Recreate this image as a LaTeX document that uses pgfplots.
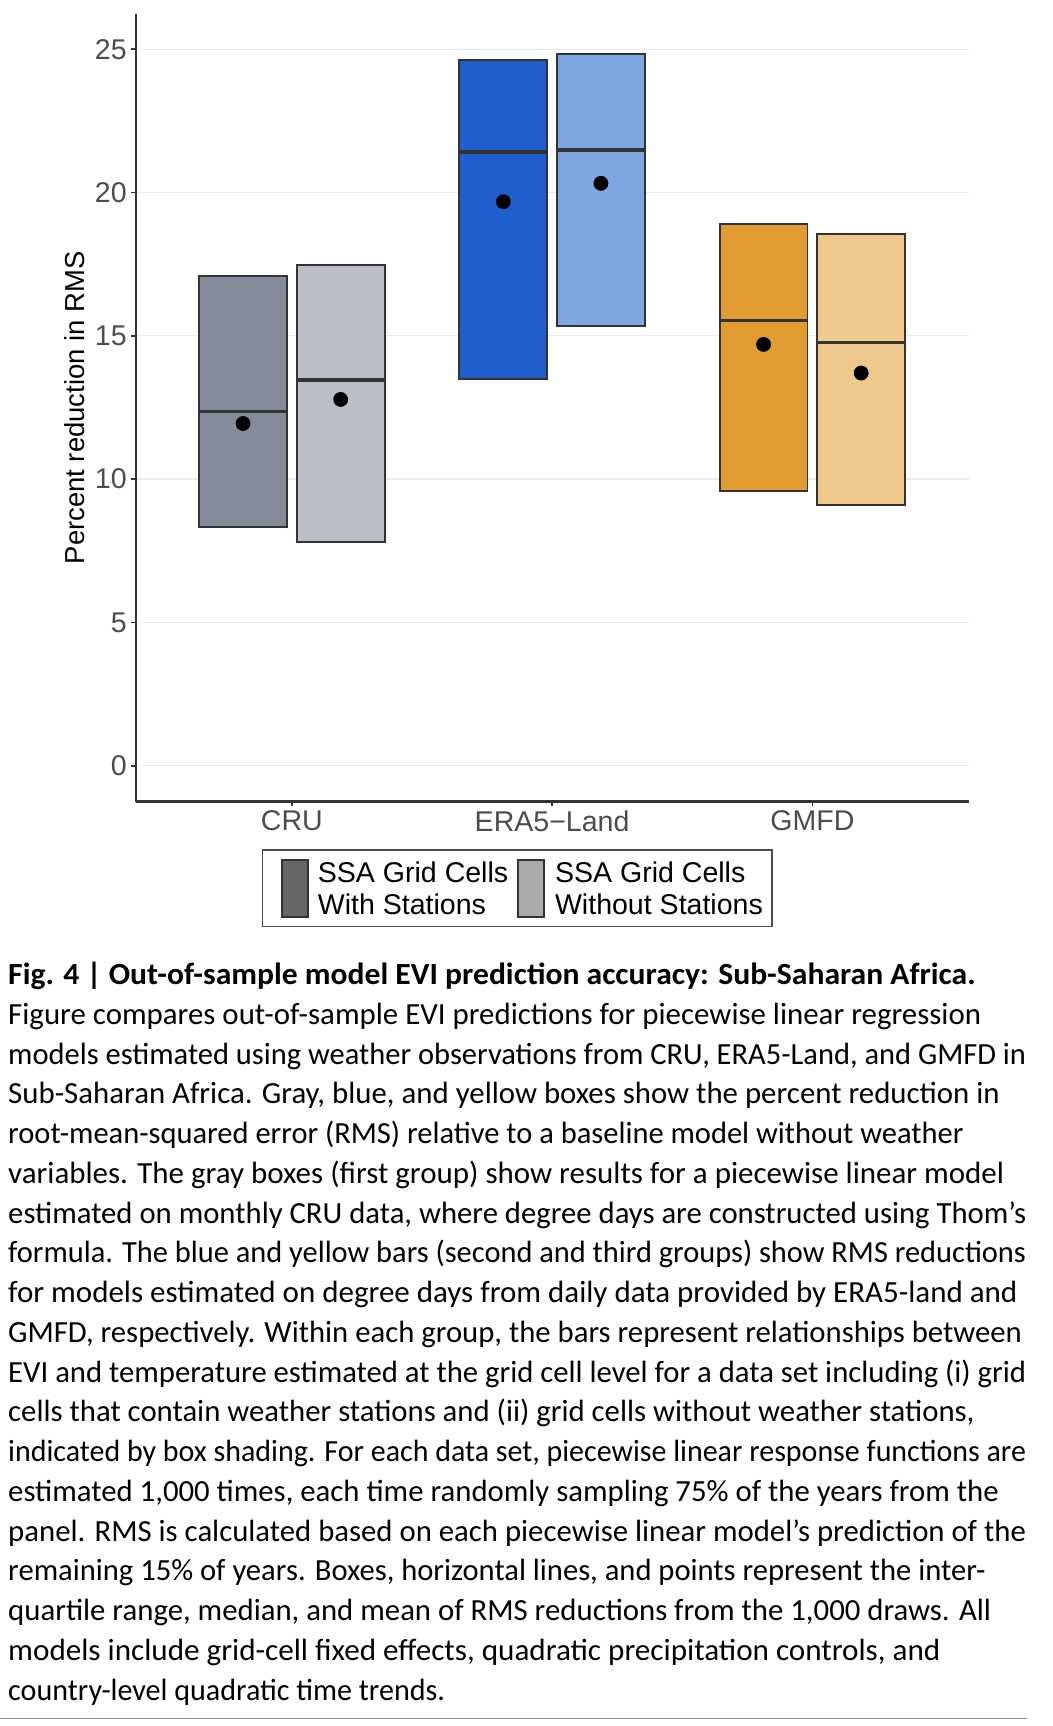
\documentclass[border=0pt]{standalone}
\usepackage{fontspec}
\setmainfont{Liberation Sans}
\newfontfamily\capfont{Carlito}
\usepackage{graphicx}
\usepackage{pgfplots}
\pgfplotsset{compat=1.18}

\definecolor{cruA}{HTML}{848B9B}
\definecolor{cruB}{HTML}{BBBEC9}
\definecolor{eraA}{HTML}{1F5FCD}
\definecolor{eraB}{HTML}{7EA7E1}
\definecolor{gmfA}{HTML}{E19D31}
\definecolor{gmfB}{HTML}{EFC98B}
\definecolor{keyA}{HTML}{666666}
\definecolor{keyB}{HTML}{AAAAAA}
\definecolor{edge}{HTML}{333333}

% one pixel of the layout grid
\def\px{0.4pt}

\pgfplotsset{
  iqr/.style={fill=#1, draw=edge, line width=0.7pt},
  med/.style={draw=edge, line width=1.3pt},
}

\begin{document}
\begin{tikzpicture}
\path[use as bounding box] (0,0) rectangle (959*\px,-1572*\px);

\begin{axis}[
  at={(123.6*\px,-730*\px)}, anchor=south west,
  scale only axis, width=303.4pt, height=286.8pt,
  xmin=0.4, xmax=3.6, ymin=-1.25, ymax=26.22,
  axis x line=bottom, axis y line=left,
  axis line style={-, draw=edge, line width=0.8pt},
  tick style={draw=edge, line width=0.6pt},
  tick align=outside, major tick length=1.8pt,
  xtick={1,2,3}, xticklabels={CRU,ERA5−Land,GMFD},
  ytick={0,5,10,15,20,25},
  ymajorgrids, grid style={draw=black!8, line width=0.5pt},
  /pgf/number format/assume math mode=true,
  tick label style={font=\fontsize{10.4}{12}\selectfont, text=black!70},
  yticklabel style={inner sep=1.3pt},
  xticklabel style={inner sep=1.4pt},
  label style={font=\fontsize{10.4}{12}\selectfont},
  ylabel={Percent reduction in RMS},
  every axis y label/.style={at={(axis description cs:-0.0735,0.5)}, rotate=90, anchor=center},
]
% CRU: interquartile boxes and medians
\addplot[iqr=cruA] coordinates {(0.64375,8.34) (0.98125,8.34) (0.98125,17.08) (0.64375,17.08)} -- cycle;
\addplot[med] coordinates {(0.64375,12.36) (0.98125,12.36)};
\addplot[iqr=cruB] coordinates {(1.01875,7.80) (1.35625,7.80) (1.35625,17.46) (1.01875,17.46)} -- cycle;
\addplot[med] coordinates {(1.01875,13.46) (1.35625,13.46)};
% ERA5-Land
\addplot[iqr=eraA] coordinates {(1.64375,13.50) (1.98125,13.50) (1.98125,24.62) (1.64375,24.62)} -- cycle;
\addplot[med] coordinates {(1.64375,21.42) (1.98125,21.42)};
\addplot[iqr=eraB] coordinates {(2.01875,15.34) (2.35625,15.34) (2.35625,24.82) (2.01875,24.82)} -- cycle;
\addplot[med] coordinates {(2.01875,21.48) (2.35625,21.48)};
% GMFD
\addplot[iqr=gmfA] coordinates {(2.64375,9.58) (2.98125,9.58) (2.98125,18.90) (2.64375,18.90)} -- cycle;
\addplot[med] coordinates {(2.64375,15.54) (2.98125,15.54)};
\addplot[iqr=gmfB] coordinates {(3.01875,9.10) (3.35625,9.10) (3.35625,18.54) (3.01875,18.54)} -- cycle;
\addplot[med] coordinates {(3.01875,14.76) (3.35625,14.76)};
% means
\addplot[only marks, mark=*, mark size=2.5pt, black] coordinates {
  (0.8125,11.94) (1.1875,12.78) (1.8125,19.68) (2.1875,20.32) (2.8125,14.70) (3.1875,13.70)
};
\end{axis}

% legend
\draw[draw=black!70, line width=0.5pt] (239*\px,-774*\px) rectangle (703*\px,-844*\px);
\draw[fill=keyA, draw=edge, line width=0.7pt] (256.5*\px,-783*\px) rectangle (280.5*\px,-835*\px);
\draw[fill=keyB, draw=edge, line width=0.7pt] (471.5*\px,-783*\px) rectangle (495.5*\px,-835*\px);
\node[anchor=west, inner sep=0pt, align=left, font=\fontsize{10.4}{11.6}\selectfont]
  at (289*\px,-809*\px) {SSA Grid Cells\\With Stations};
\node[anchor=west, inner sep=0pt, align=left, font=\fontsize{10.4}{11.6}\selectfont]
  at (505*\px,-809*\px) {SSA Grid Cells\\Without Stations};

% caption, each line fitted to the width it has in the reference
\node[anchor=base west, inner sep=0pt, font=\capfont\bfseries\fontsize{11.2}{13}\selectfont]
  at (7*\px,-897*\px) {\resizebox{352.4pt}{\height}{Fig. 4 | Out-of-sample model EVI prediction accuracy: Sub-Saharan Africa.}};
\foreach \w/\t [count=\i from 0] in {
  354.4/{Figure compares out-of-sample EVI predictions for piecewise linear regression},
  370.8/{models estimated using weather observations from CRU, ERA5-Land, and GMFD in},
  361.2/{Sub-Saharan Africa. Gray, blue, and yellow boxes show the percent reduction in},
  348.0/{root-mean-squared error (RMS) relative to a baseline model without weather},
  362.8/{variables. The gray boxes (first group) show results for a piecewise linear model},
  370.8/{estimated on monthly CRU data, where degree days are constructed using Thom’s},
  370.8/{formula. The blue and yellow bars (second and third groups) show RMS reductions},
  367.6/{for models estimated on degree days from daily data provided by ERA5-land and},
  369.2/{GMFD, respectively. Within each group, the bars represent relationships between},
  370.8/{EVI and temperature estimated at the grid cell level for a data set including (i) grid},
  352.0/{cells that contain weather stations and (ii) grid cells without weather stations,},
  370.8/{indicated by box shading. For each data set, piecewise linear response functions are},
  360.8/{estimated 1,000 times, each time randomly sampling 75\% of the years from the},
  370.8/{panel. RMS is calculated based on each piecewise linear model’s prediction of the},
  356.0/{remaining 15\% of years. Boxes, horizontal lines, and points represent the inter-},
  358.0/{quartile range, median, and mean of RMS reductions from the 1,000 draws. All},
  339.6/{models include grid-cell fixed effects, quadratic precipitation controls, and},
  162.4/{country-level quadratic time trends.}
}{
  \node[anchor=base west, inner sep=0pt, font=\capfont\fontsize{11.2}{13}\selectfont]
    at (7*\px,{-(933+36.2*\i)*\px}) {\resizebox{\w pt}{\height}{\t}};
}
\draw[draw=black!45, line width=0.5pt] (0,-1565*\px) -- (935*\px,-1565*\px);
\end{tikzpicture}
\end{document}
